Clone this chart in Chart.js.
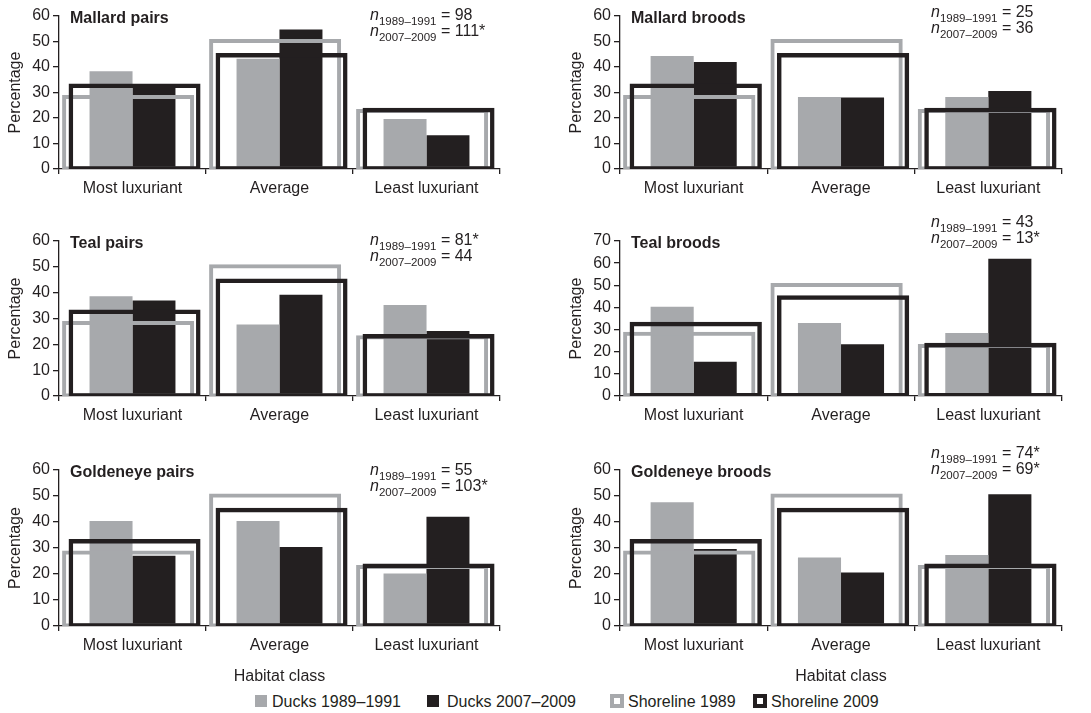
<!DOCTYPE html>
<html>
<head>
<meta charset="utf-8">
<script src="https://cdn.jsdelivr.net/npm/chart.js@4.4.0/dist/chart.umd.min.js"></script>
<style>
    body {
        margin: 0;
        width: 1091px;
        height: 713px;
        position: relative;
        overflow: hidden;
        background: #fff;
        color: #231f20;
        font-family: "Liberation Sans", Arial, sans-serif;
    }
    .panel { position: absolute; }
    .titulo { position: absolute; font-size: 16px; line-height: 16px; font-weight: bold; white-space: nowrap; }
    .n { position: absolute; font-size: 16px; line-height: 16px; white-space: nowrap; }
    .n sub { font-size: 11.5px; vertical-align: baseline; position: relative; top: 5px; }
    .ley { position: absolute; font-size: 16px; line-height: 16px; white-space: nowrap; }
    .cuadro { position: absolute; box-sizing: border-box; }
</style>
</head>
<body>
<script>
// categorias y valores (porcentajes)
const categorias = ['Most luxuriant', 'Average', 'Least luxuriant'];

const shoreline1989 = [29, 51, 23.5];
const shoreline2009 = [33.5, 45.5, 24];

const mallardPairs1989 = [38.3, 43.2, 19.6];
const mallardPairs2007 = [32, 54.7, 13.2];
const mallardBroods1989 = [44.3, 28.2, 28.2];
const mallardBroods2007 = [42, 28, 30.6];
const tealPairs1989 = [38.6, 27.7, 35.2];
const tealPairs2007 = [37, 39.2, 25.2];
const tealBroods1989 = [40.3, 33, 28.5];
const tealBroods2007 = [15.5, 23.4, 62];
const goldeneyePairs1989 = [40.4, 40.4, 20.2];
const goldeneyePairs2007 = [27, 30.4, 42];
const goldeneyeBroods1989 = [47.6, 26.3, 27.3];
const goldeneyeBroods2007 = [29.6, 20.6, 50.7];

const titulos = ['Mallard pairs', 'Mallard broods', 'Teal pairs', 'Teal broods', 'Goldeneye pairs', 'Goldeneye broods'];
const nTemprano = ['98', '25', '81*', '43', '55', '74*'];
const nTardio = ['111*', '36', '44', '13*', '103*', '69*'];
const maxY = [60, 60, 60, 70, 60, 60];

const patos1989 = [mallardPairs1989, mallardBroods1989, tealPairs1989, tealBroods1989, goldeneyePairs1989, goldeneyeBroods1989];
const patos2007 = [mallardPairs2007, mallardBroods2007, tealPairs2007, tealBroods2007, goldeneyePairs2007, goldeneyeBroods2007];

const GRIS = '#a7a9ac';
const NEGRO = '#231f20';

Chart.defaults.font.family = '"Liberation Sans", Arial, sans-serif';
Chart.defaults.font.size = 16;
Chart.defaults.color = NEGRO;

// ubicacion de los paneles en la pagina
const colIzq = [0, 561];
const colEje = [59, 620];
const colDer = [500, 1062];
const filaArea = [[16, 169], [241, 396], [470, 626]];
const nBase = [20, 17, 245, 227, 475, 458];

// Chart.js pone la barra k (de n agrupadas) en inicio + chunk * (k + 0.5).
// Con esto se eligen categoryPercentage / barPercentage para un corrimiento
// y un ancho dados como fraccion de la categoria (los contornos se superponen).
function ubicar(k, n, corrimiento, ancho) {
    const f = (k + 0.5) / n - 0.5;
    const cp = corrimiento / f;
    return { categoryPercentage: cp, barPercentage: ancho * n / cp };
}

function agregar(tag, clase, estilo, html) {
    const el = document.createElement(tag);
    el.className = clase;
    Object.assign(el.style, estilo);
    if (html) el.innerHTML = html;
    document.body.appendChild(el);
    return el;
}

function crearPanel(i) {
    const col = i % 2;
    const fila = Math.floor(i / 2);
    const [arriba, abajo] = filaArea[fila];
    const altoX = fila === 2 ? 62 : 36;

    const div = agregar('div', 'panel', {
        left: colIzq[col] + 'px',
        top: (arriba - 16) + 'px',
        width: (colDer[col] + 6 - colIzq[col]) + 'px',
        height: (abajo - arriba + 16 + altoX) + 'px'
    });
    const canvas = document.createElement('canvas');
    div.appendChild(canvas);

    // orden: el contorno 2009 se dibuja encima de todo, las barras debajo
    // base un poco bajo cero: el borde inferior del contorno queda sobre el eje
    new Chart(canvas.getContext('2d'), {
        type: 'bar',
        data: {
            labels: categorias,
            datasets: [Object.assign({
                label: 'Shoreline 2009',
                data: shoreline2009,
                order: 0,
                base: -0.65,
                backgroundColor: 'rgba(0,0,0,0)',
                borderColor: NEGRO,
                borderWidth: 4.5,
                borderSkipped: false
            }, ubicar(0, 4, 0.014, 0.898)), Object.assign({
                label: 'Shoreline 1989',
                data: shoreline1989,
                order: 1,
                base: -0.6,
                backgroundColor: 'rgba(0,0,0,0)',
                borderColor: GRIS,
                borderWidth: 4,
                borderSkipped: false
            }, ubicar(1, 4, -0.030, 0.898)), Object.assign({
                label: 'Ducks 1989–1991',
                data: patos1989[i],
                order: 2,
                backgroundColor: GRIS
            }, ubicar(2, 4, -0.146, 0.2925)), Object.assign({
                label: 'Ducks 2007–2009',
                data: patos2007[i],
                order: 3,
                backgroundColor: NEGRO
            }, ubicar(3, 4, 0.146, 0.2925))]
        },
        options: {
            responsive: true,
            maintainAspectRatio: false,
            animation: false,
            layout: { padding: { top: 16, right: 6, left: 0, bottom: 0 } },
            plugins: {
                legend: { display: false },
                tooltip: { enabled: false }
            },
            scales: {
                x: {
                    type: 'category',
                    offset: true,
                    grid: { offset: true, drawOnChartArea: false, tickLength: 5, color: NEGRO, lineWidth: 1.3 },
                    border: { display: true, color: NEGRO, width: 1.3 },
                    ticks: { padding: 5, maxRotation: 0 },
                    title: {
                        display: fila === 2,
                        text: 'Habitat class',
                        padding: { top: 0, bottom: 2 }
                    },
                    afterFit: function (scale) { scale.height = altoX; }
                },
                y: {
                    min: 0,
                    max: maxY[i],
                    ticks: { stepSize: 10, padding: 3, autoSkip: false },
                    grid: { drawOnChartArea: false, tickLength: 6, color: NEGRO, lineWidth: 1.3 },
                    border: { display: true, color: NEGRO, width: 1.3 },
                    title: {
                        display: true,
                        text: 'Percentage',
                        padding: { top: 6, bottom: 0 }
                    },
                    afterFit: function (scale) { scale.width = colEje[col] - colIzq[col]; }
                }
            }
        }
    });

    agregar('div', 'titulo', { left: (colEje[col] + 11) + 'px', top: (arriba - 6.5) + 'px' }, titulos[i]);

    const nx = col === 0 ? 370 : 931;
    agregar('div', 'n', { left: nx + 'px', top: (nBase[i] - 13.5) + 'px' },
        '<i>n</i><sub>1989–1991</sub> = ' + nTemprano[i]);
    agregar('div', 'n', { left: nx + 'px', top: (nBase[i] + 16 - 13.5) + 'px' },
        '<i>n</i><sub>2007–2009</sub> = ' + nTardio[i]);
}

for (let i = 0; i < 6; i++) crearPanel(i);

// leyenda comun
const leyenda = [
    { x: 255, tx: 272, texto: 'Ducks 1989–1991', estilo: { width: '12px', height: '12px', background: GRIS, top: '695px' } },
    { x: 427, tx: 447, texto: 'Ducks 2007–2009', estilo: { width: '12px', height: '12px', background: NEGRO, top: '695px' } },
    { x: 610, tx: 628, texto: 'Shoreline 1989', estilo: { width: '14px', height: '14px', border: '4px solid ' + GRIS, top: '694px' } },
    { x: 753, tx: 771, texto: 'Shoreline 2009', estilo: { width: '14px', height: '14px', border: '4.5px solid ' + NEGRO, top: '694px' } }
];
leyenda.forEach(function (item) {
    agregar('div', 'cuadro', Object.assign({ left: item.x + 'px' }, item.estilo));
    agregar('div', 'ley', { left: item.tx + 'px', top: (707 - 13.5) + 'px' }, item.texto);
});
</script>
</body>
</html>
